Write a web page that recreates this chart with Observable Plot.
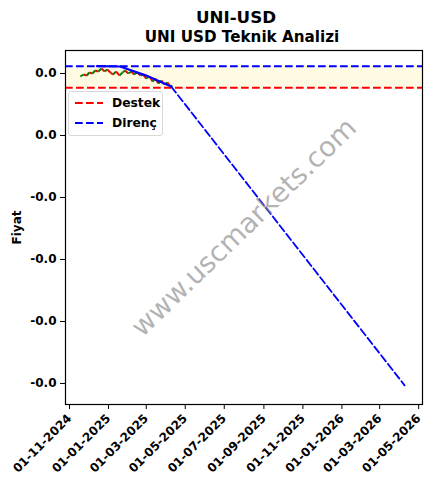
<!DOCTYPE html>
<html>
<head>
<meta charset="utf-8">
<script src="https://cdn.jsdelivr.net/npm/d3@7"></script>
<script src="https://cdn.jsdelivr.net/npm/@observablehq/plot@0.6"></script>
<style>
  body { margin: 0; background: #fff; font-family: "DejaVu Sans", sans-serif; }
  #wrap { position: relative; width: 436px; height: 489px; }
  #title { text-align: center; font-weight: bold; font-size: 16.7px; line-height: 22px; padding-top: 6px; padding-left: 36px; }
  #subtitle { text-align: center; font-weight: bold; font-size: 15.2px; line-height: 18px; padding-left: 48px; }
  #legend { position: absolute; left: 68px; top: 91px; width: 95px; height: 45px; background: rgba(255,255,255,0.8);
            border: 1px solid #d8d8d8; border-radius: 3px; box-sizing: border-box; font-weight: bold; font-size: 12.3px; }
  .item { position: absolute; left: 6px; height: 14px; display: flex; align-items: center; }
  .item svg { margin-right: 9px; }
</style>
</head>
<body>
<div id="wrap">
  <div id="title">UNI-USD</div>
  <div id="subtitle">UNI USD Teknik Analizi</div>
  <div id="chart"></div>
  <div id="legend">
    <div class="item" style="top:4px"><svg width="28" height="4"><line x1="0" y1="2" x2="28" y2="2" stroke="red" stroke-width="2" stroke-dasharray="7.7,3.3"/></svg>Destek</div>
    <div class="item" style="top:24px"><svg width="28" height="4"><line x1="0" y1="2" x2="28" y2="2" stroke="blue" stroke-width="2" stroke-dasharray="7.7,3.3"/></svg>Direnç</div>
  </div>
</div>
<script>
// ---- data ----
const priceDates = ["2024-11-18","2024-11-23","2024-11-28","2024-12-02","2024-12-07","2024-12-11","2024-12-16","2024-12-21","2024-12-26","2024-12-30",
  "2025-01-04","2025-01-08","2025-01-13","2025-01-18","2025-01-23","2025-01-27","2025-02-01","2025-02-06","2025-02-10","2025-02-15",
  "2025-02-20","2025-02-24","2025-03-01","2025-03-06","2025-03-11","2025-03-15","2025-03-20","2025-03-25","2025-03-29","2025-04-03",
  "2025-04-08","2025-04-11"];
const priceValues = [0.00952,0.00984,0.00968,0.01016,0.01000,0.01048,0.01032,0.01081,0.01032,0.01065,
  0.01016,0.00984,0.01032,0.00968,0.01016,0.01048,0.01000,0.01032,0.00984,0.01016,
  0.00968,0.00984,0.00919,0.00952,0.00871,0.00919,0.00839,0.00887,0.00823,0.00855,
  0.00790,0.00806];
const supportLevel = 0.00769;
const resistanceLevel = 0.01118;
const trendDates = ["2024-12-14","2025-01-19","2025-02-28","2025-04-09"];
const trendValues = [0.01118,0.01113,0.00970,0.00790];
const projDates = ["2025-04-09","2026-04-09"];
const projValues = [0.00790,-0.04030];
const xTickDates = ["2024-11-01","2025-01-01","2025-03-01","2025-05-01","2025-07-01","2025-09-01","2025-11-01","2026-01-01","2026-03-01","2026-05-01"];
const yTickValues = [0.01,0,-0.01,-0.02,-0.03,-0.04];
const xDomainDates = ["2024-10-25T18:00","2026-05-07T00:00"];
const yDomainValues = [-0.04339,0.01371];
const watermark = ["www.uscmarkets.com"];

const P = s => new Date(s);
const fmtDate = d3.utcFormat("%d-%m-%Y");
const fmtY = v => (v < 0 ? "-" : "") + Math.abs(v).toFixed(1);
const dash = "7.7,3.3";

const segs = d3.range(priceDates.length - 1).map(i => ({
  x1: P(priceDates[i]), y1: priceValues[i], x2: P(priceDates[i+1]), y2: priceValues[i+1],
  up: priceValues[i+1] >= priceValues[i]
}));
const trend = trendDates.map((d, i) => ({x: P(d), y: trendValues[i]}));
const proj = projDates.map((d, i) => ({x: P(d), y: projValues[i]}));
const xd = xDomainDates.map(P);

const chart = Plot.plot({
  width: 436,
  height: 443,
  marginTop: 4,
  marginBottom: 85,
  marginLeft: 65,
  marginRight: 14,
  style: {fontFamily: "DejaVu Sans", fontWeight: "bold", fontSize: "12px", color: "black", background: "white"},
  x: {type: "utc", domain: xd, ticks: xTickDates.map(P), tickFormat: fmtDate, tickRotate: -45, tickSize: 5, label: null},
  y: {domain: yDomainValues, ticks: yTickValues, tickFormat: fmtY, tickSize: 5, label: "Fiyat", labelAnchor: "center", labelArrow: "none", labelOffset: 53},
  marks: [
    Plot.rect([{}], {x1: () => xd[0], x2: () => xd[1], y1: () => supportLevel, y2: () => resistanceLevel, fill: "#fffbe3"}),
    Plot.ruleY([supportLevel], {stroke: "red", strokeWidth: 2, strokeDasharray: dash}),
    Plot.ruleY([resistanceLevel], {stroke: "blue", strokeWidth: 2, strokeDasharray: dash}),
    Plot.link(segs, {x1: "x1", y1: "y1", x2: "x2", y2: "y2", stroke: d => d.up ? "green" : "red", strokeWidth: 2}),
    Plot.line(trend, {x: "x", y: "y", stroke: "blue", strokeWidth: 2.2}),
    Plot.line(proj, {x: "x", y: "y", stroke: "blue", strokeWidth: 1.8, strokeDasharray: dash}),
    Plot.text(watermark, {frameAnchor: "middle", rotate: -44, fontSize: 27.5, fontWeight: "normal", fill: "gray", fillOpacity: 0.6, text: d => d}),
    Plot.frame({stroke: "black", strokeWidth: 1.2})
  ]
});
document.getElementById("chart").appendChild(chart);
</script>
</body>
</html>
